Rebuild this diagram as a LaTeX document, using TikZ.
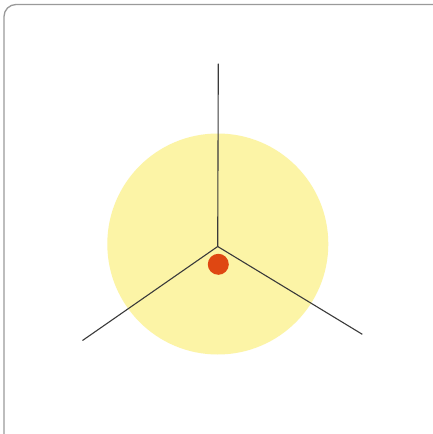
\documentclass[tikz,border=0pt]{standalone}
\definecolor{frameGray}{HTML}{9A9A9A}
\definecolor{sunYellow}{HTML}{FCF4A6}
\definecolor{dotRed}{HTML}{DF4712}
\definecolor{spoke}{HTML}{3A3A3A}
\tikzset{
  spokeline/.style={draw=spoke, line width=1.1pt},
}
\begin{document}
\begin{tikzpicture}[x=1pt,y=-1pt]
  \useasboundingbox (0,0) rectangle (432,434);
  \fill[white] (0,0) rectangle (432,434);
  \draw[frameGray, line width=1.3pt, rounded corners=12pt] (4,450) -- (4,4.5) -- (450,4.5);
  \fill[sunYellow] (217.8,244) circle (110.5);
  \coordinate (c) at (217.7,246.5);
  \coordinate (top) at (218.3,63.5);
  \coordinate (ll) at (82.5,340.5);
  \coordinate (lr) at (362.3,334.3);
  \draw[spokeline] (c) -- (top);
  \draw[spokeline] (c) -- (ll);
  \draw[spokeline] (c) -- (lr);
  \fill[dotRed] (218.3,264.3) circle (10.5);
\end{tikzpicture}
\end{document}
